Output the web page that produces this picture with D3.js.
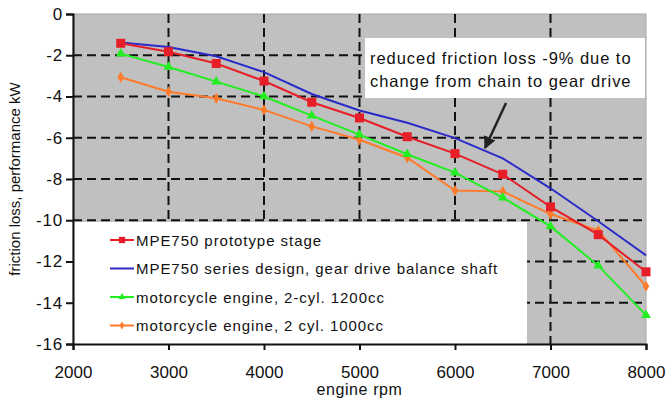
<!DOCTYPE html>
<html>
<head>
<meta charset="utf-8">
<script src="https://cdn.jsdelivr.net/npm/d3@7/dist/d3.min.js"></script>
<style>
  body { margin: 0; background: #fff; }
  svg text { font-family: "Liberation Sans", Arial, sans-serif; fill: #111; }
</style>
</head>
<body>
<div id="chart"></div>
<script>
// rpm points
const rpm = [2500, 3000, 3500, 4000, 4500, 5000, 5500, 6000, 6500, 7000, 7500, 8000];

const prototypeStage = [-1.42, -1.83, -2.4, -3.25, -4.28, -5.04, -5.95, -6.77, -7.77, -9.35, -10.7, -12.5];
const seriesDesign = [-1.38, -1.6, -2.05, -2.82, -3.88, -4.68, -5.27, -6.02, -7.0, -8.45, -10.05, -11.7];
const engine1200 = [-1.92, -2.57, -3.28, -4.0, -4.93, -5.85, -6.8, -7.69, -8.9, -10.3, -12.2, -14.6];
const engine1000 = [-3.07, -3.77, -4.09, -4.65, -5.45, -6.1, -6.97, -8.56, -8.6, -9.7, -10.5, -13.2];

const seriesNames = [
  'MPE750 prototype stage',
  'MPE750 series design, gear drive balance shaft',
  'motorcycle engine, 2-cyl. 1200cc',
  'motorcycle engine, 2 cyl. 1000cc'
];

const xTicks = [2000, 3000, 4000, 5000, 6000, 7000, 8000];
const yTicks = [0, -2, -4, -6, -8, -10, -12, -14, -16];
const noteLines = ['reduced friction loss -9% due to', 'change from chain to gear drive'];

const width = 668;
const height = 404;
const margin = {top: 14, right: 22, bottom: 60, left: 73};

const series = [
  {name: seriesNames[0], values: prototypeStage, color: '#e61e28', marker: 'square'},
  {name: seriesNames[1], values: seriesDesign, color: '#2a2ac8', marker: 'none'},
  {name: seriesNames[2], values: engine1200, color: '#22ee22', marker: 'triangle'},
  {name: seriesNames[3], values: engine1000, color: '#ff7a2a', marker: 'diamond'}
];

const svg = d3.select('#chart')
  .append('svg')
  .attr('width', width)
  .attr('height', height);

const x = d3.scaleLinear().domain([2000, 8000]).range([margin.left, width - margin.right]);
const y = d3.scaleLinear().domain([-16, 0]).range([height - margin.bottom, margin.top]);

// plot background
svg.append('rect')
  .attr('x', x(2000))
  .attr('y', y(0))
  .attr('width', x(8000) - x(2000))
  .attr('height', y(-16) - y(0))
  .attr('fill', '#c0c0c0')
  .attr('stroke', '#a8a8a8');

// dashed grid
const grid = svg.append('g')
  .attr('stroke', '#111')
  .attr('stroke-width', 2)
  .attr('stroke-dasharray', '9,5');

grid.selectAll('.vgrid')
  .data(xTicks.filter(d => d > 2000 && d < 8000))
  .enter()
  .append('line')
  .attr('x1', d => x(d))
  .attr('x2', d => x(d))
  .attr('y1', y(0))
  .attr('y2', y(-16));

grid.selectAll('.hgrid')
  .data(yTicks.filter(d => d < 0 && d > -16))
  .enter()
  .append('line')
  .attr('x1', x(2000))
  .attr('x2', x(8000))
  .attr('y1', d => y(d))
  .attr('y2', d => y(d));

// legend box covers the grid
const legendBox = {x: x(2000) + 1, y: 222, w: 527 - x(2000) - 1, h: y(-16) - 222};
svg.append('rect')
  .attr('x', legendBox.x)
  .attr('y', legendBox.y)
  .attr('width', legendBox.w)
  .attr('height', legendBox.h)
  .attr('fill', '#fff');

// axes
const xAxis = svg.append('g')
  .attr('transform', 'translate(0,' + y(-16) + ')')
  .call(d3.axisBottom(x).tickValues(xTicks).tickSize(6).tickPadding(16).tickFormat(d3.format('d')));

const yAxis = svg.append('g')
  .attr('transform', 'translate(' + x(2000) + ',0)')
  .call(d3.axisLeft(y).tickValues(yTicks).tickSize(7).tickPadding(3).tickFormat(d => d === 0 ? '0' : '-' + Math.abs(d)));

[xAxis, yAxis].forEach(function(a) {
  a.select('.domain').attr('stroke', '#111').attr('stroke-width', 2);
  a.selectAll('.tick line').attr('stroke', '#111').attr('stroke-width', 2);
  a.selectAll('.tick text').attr('font-size', 17).attr('fill', '#111')
    .style('font-family', '"Liberation Sans", Arial, sans-serif');
});
yAxis.selectAll('.tick text').attr('letter-spacing', 0.8);

svg.append('text')
  .attr('x', (x(2000) + x(8000)) / 2)
  .attr('y', 395)
  .attr('text-anchor', 'middle')
  .attr('font-size', 16)
  .attr('letter-spacing', 0.6)
  .text('engine rpm');

svg.append('text')
  .attr('transform', 'translate(20,' + ((y(0) + y(-16)) / 2) + ') rotate(-90)')
  .attr('text-anchor', 'middle')
  .attr('font-size', 15)
  .text('friction loss, performance kW');

// markers
function drawMarker(g, type, color, cx, cy, k) {
  k = k || 1;
  if (type === 'square') {
    g.append('rect').attr('x', cx - 4.5 * k).attr('y', cy - 4.5 * k).attr('width', 9 * k).attr('height', 9 * k).attr('fill', color);
  } else if (type === 'triangle') {
    g.append('path').attr('d', d3.symbol().type(d3.symbolTriangle).size(42 * k * k)()).attr('transform', 'translate(' + cx + ',' + cy + ')').attr('fill', color);
  } else if (type === 'diamond') {
    g.append('path').attr('d', d3.symbol().type(d3.symbolDiamond).size(36 * k * k)()).attr('transform', 'translate(' + cx + ',' + cy + ')').attr('fill', color);
  }
}

const line = d3.line()
  .x(d => x(d[0]))
  .y(d => y(d[1]));

const plot = svg.append('g');
series.slice().reverse().forEach(function(s) {
  const pts = rpm.map((r, i) => [r, s.values[i]]);
  plot.append('path')
    .attr('d', line(pts))
    .attr('fill', 'none')
    .attr('stroke', s.color)
    .attr('stroke-width', 2);
  pts.forEach(p => drawMarker(plot, s.marker, s.color, x(p[0]), y(p[1])));
});

// legend entries
const legend = svg.selectAll('.legend')
  .data(series)
  .enter()
  .append('g')
  .attr('class', 'legend')
  .attr('transform', (d, i) => 'translate(110,' + (240 + i * 28.5) + ')');

legend.append('line')
  .attr('x1', 0)
  .attr('x2', 24)
  .attr('stroke', d => d.color)
  .attr('stroke-width', 2);

legend.each(function(d) {
  drawMarker(d3.select(this), d.marker, d.color, 12, 0, 0.7);
});

legend.append('text')
  .attr('x', 26)
  .attr('y', 5.5)
  .attr('font-size', 15)
  .attr('letter-spacing', 0.95)
  .text(d => d.name);

// annotation
svg.append('rect')
  .attr('x', 365)
  .attr('y', 38)
  .attr('width', 280)
  .attr('height', 60)
  .attr('fill', '#fff');

svg.append('text')
  .attr('x', 370)
  .attr('font-size', 16.5)
  .attr('letter-spacing', 0.95)
  .selectAll('tspan')
  .data(noteLines)
  .enter()
  .append('tspan')
  .attr('x', 370)
  .attr('y', (d, i) => 64 + i * 23)
  .text(d => d);

svg.append('defs').append('marker')
  .attr('id', 'arrow')
  .attr('viewBox', '0 0 10 10')
  .attr('refX', 9)
  .attr('refY', 5)
  .attr('markerWidth', 5)
  .attr('markerHeight', 5)
  .attr('orient', 'auto')
  .append('path')
  .attr('d', 'M0,0 L10,5 L0,10 z')
  .attr('fill', '#222');

svg.append('line')
  .attr('x1', 506)
  .attr('y1', 103)
  .attr('x2', 485)
  .attr('y2', 148)
  .attr('stroke', '#222')
  .attr('stroke-width', 2.5)
  .attr('marker-end', 'url(#arrow)');
</script>
</body>
</html>
